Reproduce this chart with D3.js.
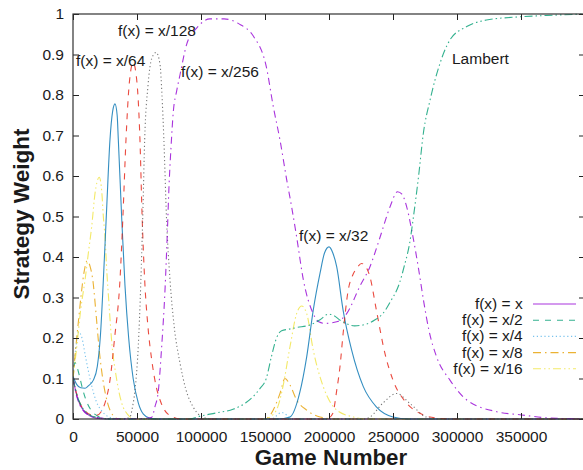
<!DOCTYPE html>
<html>
<head>
<meta charset="utf-8">
<script src="https://cdn.jsdelivr.net/npm/d3@7"></script>
<style>
body { margin: 0; background: #fff; }
text { font-family: "Liberation Sans", Arial, Helvetica, sans-serif; fill: #1a1a1a; }
</style>
</head>
<body>
<div id="chart"></div>
<script>
// tick values
var gameTicks = [0, 50000, 100000, 150000, 200000, 250000, 300000, 350000];
var weightTicks = [0, 0.1, 0.2, 0.3, 0.4, 0.5, 0.6, 0.7, 0.8, 0.9, 1];

// strategy weight curves, [game number, weight]
var fx1 = [[0,0.105],[2000,0.07],[5500,0.035],[9000,0.018],[13000,0.008],[18000,0.002],[25000,0],[400000,0]];
var fx2 = [[0,0.1],[1500,0.14],[3000,0.13],[5500,0.1],[8000,0.068],[11000,0.04],[15000,0.018],[20000,0.006],[27000,0],[400000,0]];
var fx4 = [[0,0.1],[2000,0.17],[4500,0.215],[7000,0.2],[10000,0.15],[14000,0.09],[18000,0.045],[23000,0.018],[28000,0.005],[36000,0],
  [155000,0],[163000,0.016],[172000,0],[400000,0]];
var fx8 = [[0,0.1],[2000,0.17],[4200,0.24],[6500,0.31],[8500,0.36],[11000,0.39],[13500,0.375],[15600,0.34],[18000,0.26],[20500,0.17],
  [23400,0.096],[27000,0.04],[31000,0.01],[36000,0],[150000,0],[155000,0.014],[161700,0.063],[165600,0.1],[169500,0.084],
  [174700,0.047],[182600,0.022],[193000,0.005],[205000,0],[400000,0]];
var fx16 = [[0,0.1],[3000,0.18],[6000,0.27],[9400,0.343],[12000,0.41],[14600,0.475],[17200,0.557],[20500,0.597],[22500,0.56],
  [23700,0.5],[25000,0.45],[26500,0.36],[28000,0.29],[30000,0.2],[34000,0.1],[38000,0.04],[43000,0.01],[48000,0],
  [150000,0],[154000,0.005],[160000,0.03],[164000,0.08],[169500,0.178],[174700,0.26],[178700,0.279],[182600,0.26],
  [187700,0.17],[195500,0.08],[206000,0.022],[219000,0.005],[230000,0],[400000,0]];
var fx32 = [[0,0.105],[3000,0.085],[6000,0.077],[9400,0.076],[12000,0.082],[15900,0.096],[19000,0.13],[21500,0.21],[23600,0.335],
  [26300,0.52],[28900,0.69],[31000,0.76],[32800,0.778],[34500,0.75],[35400,0.69],[38000,0.5],[40600,0.33],[43500,0.2],
  [47000,0.1],[51000,0.04],[55000,0.012],[60000,0.002],[66000,0],[160000,0],[169500,0.005],[177000,0.063],[182600,0.154],
  [187700,0.269],[193000,0.36],[196500,0.41],[200000,0.425],[203000,0.41],[206000,0.376],[211000,0.269],[217700,0.17],
  [226800,0.08],[237000,0.03],[250000,0.005],[262000,0],[400000,0]];
var fx64 = [[0,0.1],[3000,0.06],[6000,0.035],[10000,0.018],[15000,0.01],[19000,0.01],[22000,0.018],[25500,0.045],[28900,0.096],
  [32500,0.2],[36700,0.343],[39000,0.5],[41400,0.69],[44000,0.83],[47000,0.88],[50000,0.83],[52300,0.69],[54000,0.5],
  [56000,0.343],[58500,0.23],[61500,0.146],[65000,0.08],[68000,0.047],[75000,0.01],[85000,0],[195000,0],[200000,0.003],
  [203000,0.014],[206000,0.07],[208600,0.13],[211000,0.21],[215000,0.318],[218500,0.355],[221600,0.372],[225500,0.384],
  [229000,0.375],[232000,0.351],[237000,0.269],[243700,0.162],[250000,0.096],[260700,0.039],[271000,0.014],[285000,0.002],
  [295000,0],[400000,0]];
var fx128 = [[0,0.1],[4000,0.05],[9000,0.02],[15000,0.007],[25000,0.001],[40000,0],[44500,0.005],[46500,0.03],[48400,0.07],
  [51000,0.18],[52900,0.33],[54500,0.5],[56000,0.69],[58500,0.82],[61500,0.89],[65000,0.905],[68000,0.875],[69500,0.8],
  [71000,0.69],[73000,0.5],[75800,0.343],[79000,0.23],[83600,0.138],[88000,0.075],[93800,0.03],[100000,0.007],[108000,0],
  [228000,0],[232000,0.005],[242000,0.039],[253000,0.063],[263000,0.039],[276000,0.005],[285000,0],[400000,0]];
var fx256 = [[0,0.1],[3000,0.055],[7000,0.025],[12000,0.01],[20000,0.003],[30000,0.001],[50000,0.001],[58000,0.002],[61500,0.004],
  [64000,0.03],[66700,0.07],[69300,0.18],[71900,0.32],[73700,0.46],[75000,0.574],[76600,0.672],[78400,0.76],[81000,0.81],
  [83600,0.85],[88800,0.925],[96600,0.965],[107000,0.988],[118000,0.988],[130000,0.975],[141000,0.945],[151000,0.87],
  [156500,0.771],[161700,0.689],[167000,0.59],[170800,0.524],[174700,0.45],[180000,0.343],[187700,0.26],[192000,0.24],
  [197000,0.236],[206000,0.24],[213800,0.26],[224000,0.327],[232000,0.376],[240000,0.45],[247700,0.524],[253500,0.561],
  [257000,0.555],[260700,0.524],[265000,0.46],[270000,0.37],[274000,0.29],[278000,0.22],[284000,0.154],[294500,0.096],
  [307600,0.047],[331000,0.018],[350500,0.01],[370000,0.003],[400000,0]];
var lambert = [[0,0.1],[3000,0.06],[7000,0.03],[12000,0.012],[20000,0.003],[30000,0],[90000,0],[100500,0.008],[112000,0.015],
  [125000,0.024],[135000,0.04],[146000,0.075],[151000,0.1],[155000,0.154],[159000,0.2],[163000,0.218],[169000,0.222],
  [175000,0.226],[185000,0.232],[193000,0.245],[199500,0.259],[204000,0.255],[208600,0.244],[214000,0.235],[220000,0.23],
  [229000,0.234],[236000,0.245],[242000,0.26],[248000,0.29],[255000,0.335],[259000,0.38],[263000,0.434],[266000,0.5],
  [270000,0.6],[273700,0.705],[279000,0.788],[286700,0.878],[294500,0.936],[307600,0.969],[323000,0.985],[349000,0.993],
  [375000,0.997],[400000,1.0]];

var series = [
  {name: "f(x) = x",    data: fx1,     color: "#9400d3", dash: null},
  {name: "f(x) = x/2",  data: fx2,     color: "#009e73", dash: "6,6"},
  {name: "f(x) = x/4",  data: fx4,     color: "#56b4e9", dash: "1.2,2.6"},
  {name: "f(x) = x/8",  data: fx8,     color: "#e69f00", dash: "8,4,1.5,4"},
  {name: "f(x) = x/16", data: fx16,    color: "#f0e442", dash: "8,3,1.5,3,1.5,3"},
  {name: "f(x) = x/32", data: fx32,    color: "#0072b2", dash: null},
  {name: "f(x) = x/64", data: fx64,    color: "#e51e10", dash: "6,6"},
  {name: "f(x) = x/128", data: fx128,  color: "#555555", dash: "1.2,2.6"},
  {name: "f(x) = x/256", data: fx256,  color: "#9400d3", dash: "7,4,1.5,4"},
  {name: "Lambert",     data: lambert, color: "#009e73", dash: "8,3,1.5,3,1.5,3"}
];

// labels placed on the plot for the last five curves
var curveLabels = [
  {text: "f(x) = x/128", x: 118, y: 36},
  {text: "f(x) = x/64",  x: 76,  y: 66},
  {text: "f(x) = x/256", x: 181, y: 77},
  {text: "f(x) = x/32",  x: 299, y: 241},
  {text: "Lambert",      x: 452, y: 64}
];

var width = 583, height = 470;
var plotLeft = 73, plotRight = 585, plotTop = 14, plotBottom = 419;

var svg = d3.select("#chart").append("svg")
  .attr("width", width)
  .attr("height", height);

var xScale = d3.scaleLinear().domain([0, 400000]).range([plotLeft, plotRight]);
var yScale = d3.scaleLinear().domain([0, 1]).range([plotBottom, plotTop]);

var line = d3.line()
  .x(function(d) { return xScale(d[0]); })
  .y(function(d) { return yScale(d[1]); })
  .curve(d3.curveMonotoneX);

var plot = svg.append("g");
plot.append("clipPath").attr("id", "clip")
  .append("rect").attr("x", plotLeft).attr("y", plotTop - 2)
  .attr("width", plotRight - plotLeft).attr("height", plotBottom - plotTop + 3);

plot.selectAll("path.curve")
  .data(series)
  .enter()
  .append("path")
  .attr("class", "curve")
  .attr("clip-path", "url(#clip)")
  .attr("d", function(d) { return line(d.data); })
  .attr("fill", "none")
  .attr("stroke", function(d) { return d.color; })
  .attr("stroke-opacity", 0.8)
  .attr("stroke-width", 1.1)
  .attr("stroke-dasharray", function(d) { return d.dash; });

// axes, ticks point inward on all four sides
var fontSize = "15.5px";
svg.append("g")
  .attr("transform", "translate(0," + plotBottom + ")")
  .call(d3.axisBottom(xScale).tickValues(gameTicks).tickSizeInner(-6).tickSizeOuter(0).tickPadding(11.5)
    .tickFormat(d3.format("d")));
svg.append("g")
  .attr("transform", "translate(0," + plotTop + ")")
  .call(d3.axisTop(xScale).tickValues(gameTicks).tickSizeInner(-6).tickSizeOuter(0).tickFormat(""));
svg.append("g")
  .attr("transform", "translate(" + plotLeft + ",0)")
  .call(d3.axisLeft(yScale).tickValues(weightTicks).tickSizeInner(-6).tickSizeOuter(0).tickPadding(9)
    .tickFormat(function(d) { return String(d); }));
svg.append("g")
  .attr("transform", "translate(" + plotRight + ",0)")
  .call(d3.axisRight(yScale).tickValues(weightTicks).tickSizeInner(-6).tickSizeOuter(0).tickFormat(""));

svg.selectAll(".domain").remove();
svg.selectAll(".tick line").attr("stroke", "#222");
svg.selectAll(".tick text")
  .style("font-family", "'Liberation Sans', Arial, sans-serif")
  .style("font-size", fontSize)
  .attr("fill", "#1a1a1a");

svg.append("rect")
  .attr("x", plotLeft).attr("y", plotTop)
  .attr("width", plotRight - plotLeft).attr("height", plotBottom - plotTop)
  .attr("fill", "none")
  .attr("stroke", "#333")
  .attr("stroke-width", 1.2);

// axis titles
svg.append("text")
  .attr("x", 331).attr("y", 465)
  .attr("text-anchor", "middle")
  .style("font-size", "22.3px").style("font-weight", "bold")
  .text("Game Number");
svg.append("text")
  .attr("transform", "translate(29,214) rotate(-90)")
  .attr("text-anchor", "middle")
  .style("font-size", "22.5px").style("font-weight", "bold")
  .text("Strategy Weight");

// curve labels
svg.selectAll("text.curve-label")
  .data(curveLabels)
  .enter()
  .append("text")
  .attr("class", "curve-label")
  .attr("x", function(d) { return d.x; })
  .attr("y", function(d) { return d.y; })
  .style("font-size", fontSize)
  .text(function(d) { return d.text; });

// key for the first five curves
var key = svg.append("g");
var keyRows = key.selectAll("g")
  .data(series.slice(0, 5))
  .enter()
  .append("g")
  .attr("transform", function(d, i) { return "translate(0," + (309 + i * 16.2) + ")"; });
keyRows.append("text")
  .attr("x", 522.7)
  .attr("text-anchor", "end")
  .style("font-size", fontSize)
  .text(function(d) { return d.name; });
keyRows.append("line")
  .attr("x1", 533).attr("x2", 576)
  .attr("y1", -5).attr("y2", -5)
  .attr("stroke", function(d) { return d.color; })
  .attr("stroke-opacity", 0.8)
  .attr("stroke-width", 1.1)
  .attr("stroke-dasharray", function(d) { return d.dash; });
</script>
</body>
</html>
